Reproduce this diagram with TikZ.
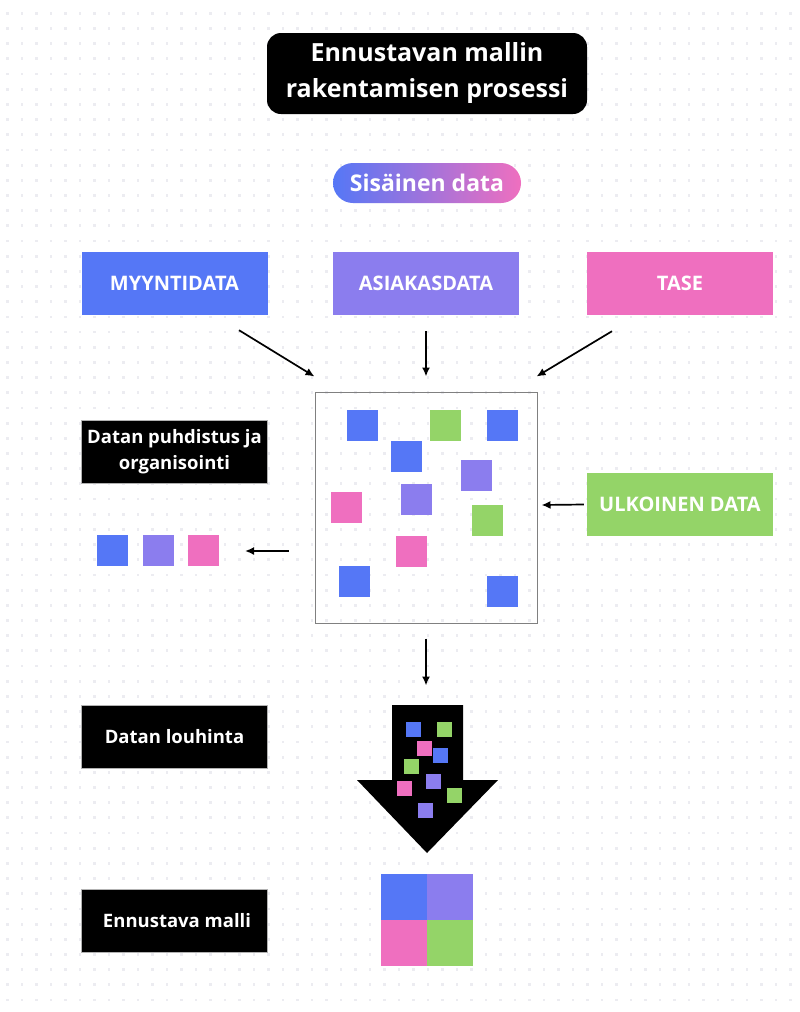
\documentclass[tikz,border=0pt]{standalone}
\usepackage{fontspec}
\setmainfont{Open Sans}
\usetikzlibrary{arrows.meta, shapes, calc}
\definecolor{cblue}{HTML}{5577F6}
\definecolor{cpurple}{HTML}{8B7DEE}
\definecolor{cpink}{HTML}{EF6FBF}
\definecolor{cgreen}{HTML}{94D468}
\definecolor{dotgray}{HTML}{ECECF1}
\tikzset{
	databox/.style={rectangle, minimum width=186pt, minimum height=63pt, inner sep=0pt, text=white, align=center, font=\bfseries\fontsize{20}{24}\selectfont},
	stepbox/.style={rectangle, fill=black, draw=gray!60, minimum width=186pt, minimum height=63pt, inner sep=0pt, text=white, align=center, font=\bfseries\fontsize{18.5}{26}\selectfont},
	flow/.style={-{Latex[length=9pt,width=8pt]}, line width=1.7pt}
}

\begin{document}
\begin{tikzpicture}[x=1pt, y=-1pt]
	\def\big{31}
	\def\small{14.5}
	\useasboundingbox (0,0) rectangle (800,1012);
	\fill[white] (0,0) rectangle (800,1012);

	\foreach \i in {0,...,54}
		\foreach \j in {0,...,65}
			\fill[dotgray] ({7.5+14.5*\i-1.4},{13.3+15.18*\j-1.4}) rectangle ++(2.8,2.8);

	\node[rectangle, rounded corners=14pt, fill=black, minimum width=320pt, minimum height=81pt, text=white, align=center, font=\bfseries\fontsize{25}{36}\selectfont] (title) at (427,73.5) {Ennustavan mallin\\rakentamisen prosessi};
	\node[rectangle, rounded corners=20pt, left color=cblue, right color=cpink, minimum width=188pt, minimum height=40pt, text=white, font=\bfseries\fontsize{23}{26}\selectfont] (sisainen) at (427,183) {Sisäinen data};

	\node[databox, fill=cblue] (myynti) at (174.5,283.5) {MYYNTIDATA};
	\node[databox, fill=cpurple] (asiakas) at (426,283.5) {ASIAKASDATA};
	\node[databox, fill=cpink] (tase) at (680,283.5) {TASE};
	\node[databox, fill=cgreen] (ulkoinen) at (680,504.5) {ULKOINEN DATA};

	\node[stepbox] (puhdistus) at (174.5,452) {Datan puhdistus ja\\organisointi};
	\node[stepbox] (louhinta) at (174.5,736.5) {Datan louhinta};
	\node[stepbox] (malli) at (174.5,920.5) {\hspace{5pt}Ennustava malli};

	\node[rectangle, draw=gray, line width=1pt, minimum width=222pt, minimum height=231pt] (pool) at (426,507.5) {};

	\foreach \x/\y/\c in {347/410/cblue, 430/410/cgreen, 487/410/cblue, 391/441/cblue, 461/460/cpurple, 331/492/cpink, 401/484/cpurple, 472/505/cgreen, 396/536/cpink, 339/566/cblue, 487/576/cblue}
		\fill[\c] (\x,\y) rectangle ++(\big,\big);

	\foreach \x/\c in {97/cblue, 143/cpurple, 188/cpink}
		\fill[\c] (\x,535) rectangle ++(\big,\big);

	\coordinate (m1) at ($(myynti.south)+(64.5,15)$);
	\coordinate (m2) at ($(pool.north west)+(0,-15)$);
	\coordinate (a1) at ($(asiakas.south)+(0,16)$);
	\coordinate (a2) at ($(pool.north)+(0,-15)$);
	\coordinate (t1) at ($(tase.south)+(-68,16)$);
	\coordinate (t2) at ($(pool.north east)+(-1,-15)$);
	\coordinate (u2) at ($(pool.east)+(4,-2.5)$);
	\coordinate (c1) at ($(pool.west)+(-26,43.5)$);
	\coordinate (c2) at (245,551);
	\coordinate (d1) at ($(pool.south)+(0,15)$);
	\coordinate (d2) at ($(pool.south)+(0,62)$);

	\draw[flow] (m1) -- (m2);
	\draw[flow] (a1) -- (a2);
	\draw[flow] (t1) -- (t2);
	\draw[flow] ($(ulkoinen.west)+(-3,0)$) -- (u2);
	\draw[flow] (c1) -- (c2);
	\draw[flow] (d1) -- (d2);

	\fill[black] (392,705) -- (463,705) -- (463,780) -- (498,780) -- (427,853) -- (357,780) -- (392,780) -- cycle;
	\foreach \x/\y/\c in {406/722/cblue, 437/722/cgreen, 417/741/cpink, 433/748/cblue, 404/759/cgreen, 426/774/cpurple, 397/781/cpink, 447/788/cgreen, 418/803/cpurple}
		\fill[\c] (\x,\y) rectangle ++(\small,\small);

	\fill[cblue] (381,874) rectangle (427,920);
	\fill[cpurple] (427,874) rectangle (473,920);
	\fill[cpink] (381,920) rectangle (427,966);
	\fill[cgreen] (427,920) rectangle (473,966);
\end{tikzpicture}
\end{document}
